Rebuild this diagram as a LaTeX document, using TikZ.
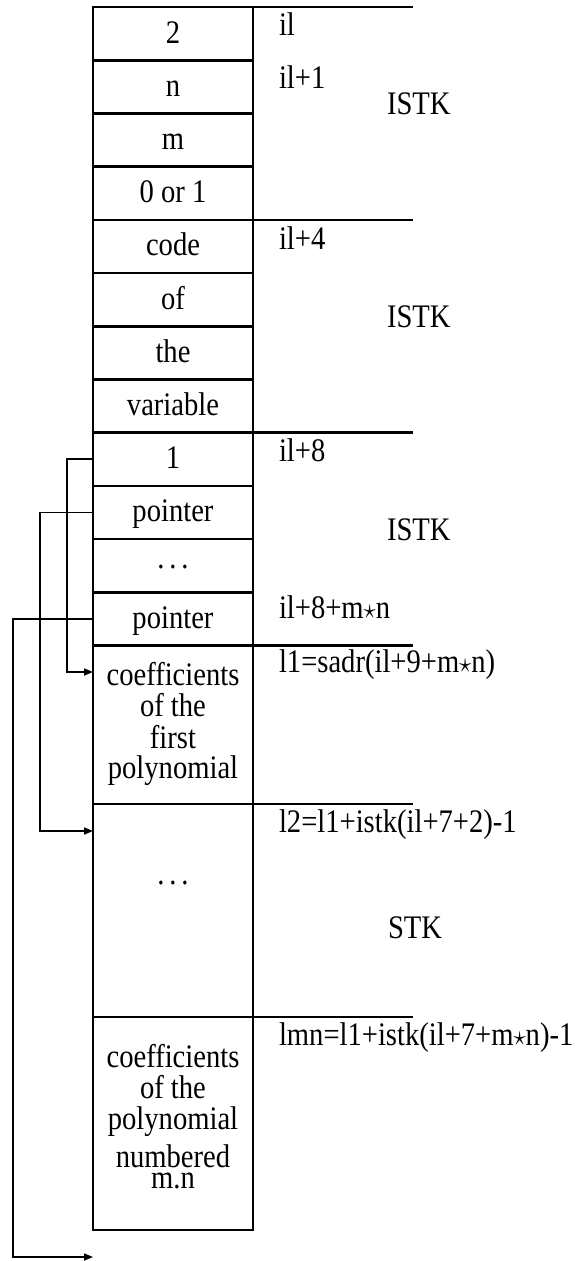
\documentclass[tikz,border=0pt]{standalone}
\usepackage{fontspec}
\setmainfont{Liberation Serif}
\usetikzlibrary{arrows.meta}
\newcommand\vs[1]{\scalebox{1}[1.15]{#1}}
\newcommand\stk[1]{\vs{\begin{tabular}{@{}c@{}}#1\end{tabular}}}
\newcommand\mydots{.\kern4.8pt.\kern4.8pt.}
\begin{document}
\begin{tikzpicture}[x=1pt,y=-1pt,
  base/.style={inner sep=0pt, outer sep=0pt, font=\fontsize{28.6}{23.5}\selectfont},
  cell/.style={base, draw, line width=1.8pt, minimum width=160pt, minimum height=#1},
  onecell/.style={cell=53.2pt, text height=19pt, text depth=0pt},
  lbl/.style={base, anchor=base west},
  sep/.style={line width=2.6pt},
  grp/.style={line width=2.6pt},
  conn/.style={line width=1.6pt, -{Triangle[length=9pt,width=7pt]}}]
\useasboundingbox (0,0) rectangle (581,1261);
% column cells
\node[onecell] (c0)  at (173,33.6)  {\vs{2}};
\node[onecell] (c1)  at (173,86.8)  {\vs{n}};
\node[onecell] (c2)  at (173,140)   {\vs{m}};
\node[onecell] (c3)  at (173,193.2) {\vs{0 or 1}};
\node[onecell] (c4)  at (173,246.4) {\vs{code}};
\node[onecell] (c5)  at (173,299.6) {\vs{of}};
\node[onecell] (c6)  at (173,352.8) {\vs{the}};
\node[onecell] (c7)  at (173,406)   {\vs{variable}};
\node[onecell] (c8)  at (173,459.2) {\vs{1}};
\node[onecell] (c9)  at (173,512.4) {\vs{pointer}};
\node[cell=53.2pt, text height=5pt, text depth=-5pt] (c10) at (173,565.6) {\vs{\mydots}};
\node[onecell] (c11) at (173,618.8) {\vs{pointer}};
\node[cell=158.6pt] (cp1) at (173,724.7) {\stk{coefficients\\of the\\first\\polynomial}};
\node[cell=213pt] (cp2) at (173,910.5) {};
\node[base, anchor=base] (dots) at (173,884) {\vs{\mydots}};
\node[cell=213pt] (cp3) at (173,1123.5) {};
\node[base, yshift=3pt] (t3) at (cp3.center) {\stk{coefficients\\of the\\polynomial\\[6.5pt]numbered\\[-5pt]m.n}};
% separators
\foreach \c in {c1,c2,c3,c5,c6,c7,c9,c10,c11}
  \draw[sep] (\c.north west) -- (\c.north east);
\foreach \c in {c0,c4,c8,cp1,cp2,cp3}
  \draw[grp] (\c.north west) -- ++(320,0);
\draw[sep] (cp3.south west) -- (cp3.south east);
% labels
\node[lbl] (l0) at (279,35)   {\vs{il}};
\node[lbl] (l1) at (279,88)   {\vs{il+1}};
\node[lbl] (l4) at (279,249)  {\vs{il+4}};
\node[lbl] (l8) at (279,461)  {\vs{il+8}};
\node[lbl] (l8mn) at (279,618) {\vs{il+8+m$\star$n}};
\node[lbl] (ll1) at (279,672) {\vs{l1=sadr(il+9+m$\star$n)}};
\node[lbl] (ll2) at (279,832) {\vs{l2=l1+istk(il+7+2)-1}};
\node[lbl] (llmn) at (279,1045) {\vs{lmn=l1+istk(il+7+m$\star$n)-1}};
\node[lbl] (g1) at (387,114) {\vs{ISTK}};
\node[lbl] (g2) at (387,327) {\vs{ISTK}};
\node[lbl] (g3) at (387,540) {\vs{ISTK}};
\node[lbl] (g4) at (388,938) {\vs{STK}};
% connectors
\coordinate (a1) at (93,672);
\coordinate (a2) at (93,831);
\coordinate (a3) at (93,1257);
\draw[conn] (c8.west) -- ++(-26,0) |- (a1);
\draw[conn] (c9.west) -- ++(-53,0) |- (a2);
\draw[conn] (c11.west) -- ++(-80,0) |- (a3);
\end{tikzpicture}
\end{document}
